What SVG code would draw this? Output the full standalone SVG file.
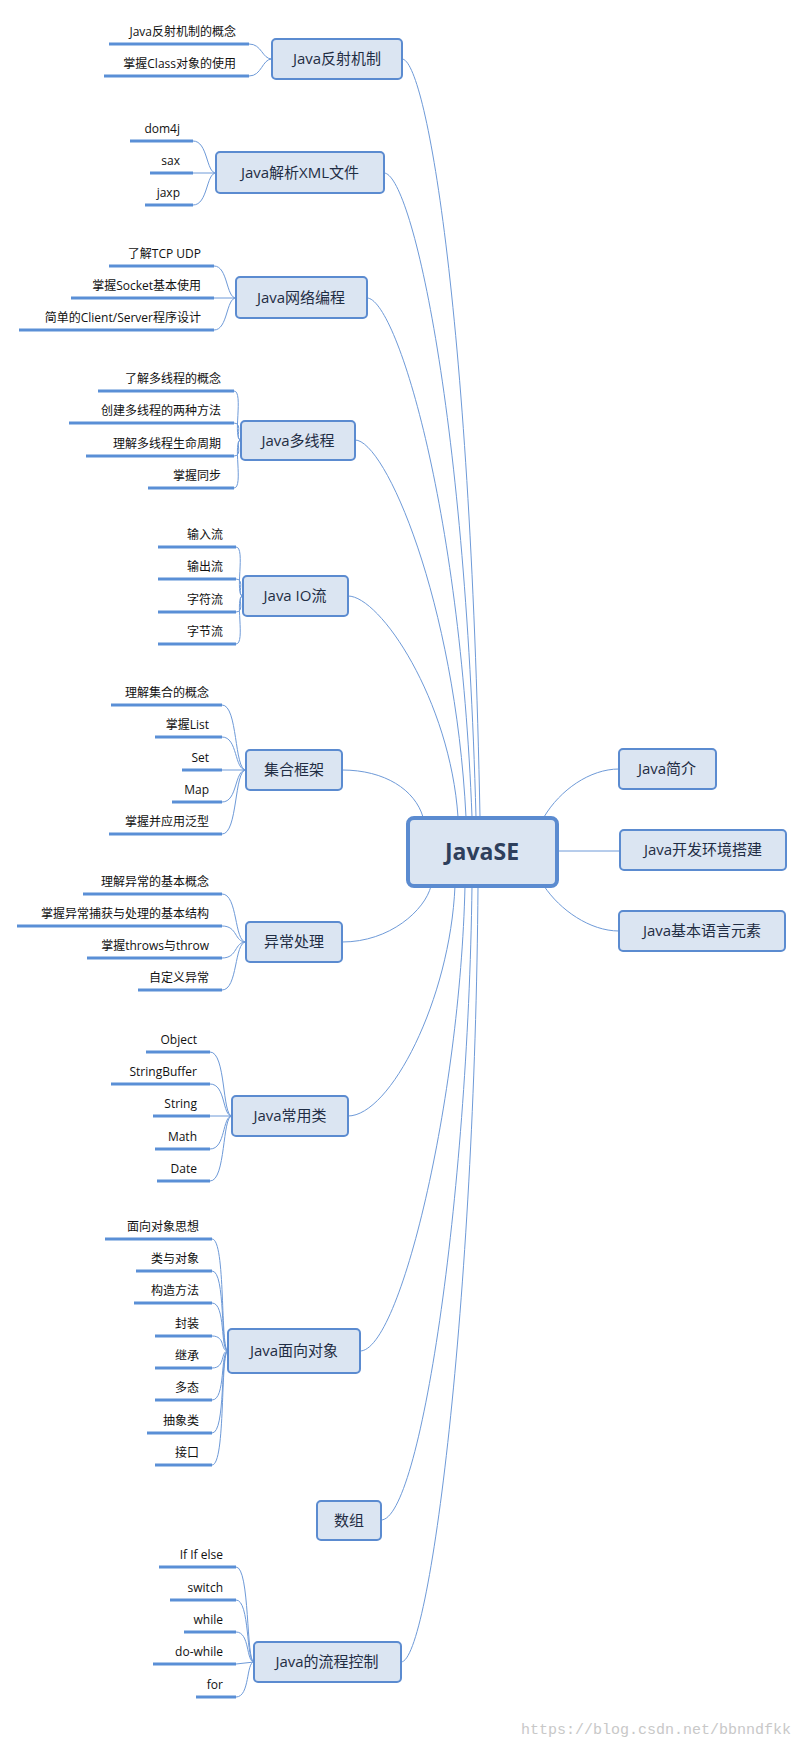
<svg xmlns="http://www.w3.org/2000/svg" width="802" height="1744" viewBox="0 0 802 1744">
<style>
.n{fill:#dbe5f2;stroke:#5b8bd0;stroke-width:2}
.nt{font-family:"Open Sans","Liberation Sans","Noto Sans CJK SC",sans-serif;font-size:15px;fill:#1f2d44;text-anchor:middle}
.lt{font-family:"Open Sans","Liberation Sans","Noto Sans CJK SC",sans-serif;font-size:12px;fill:#111;text-anchor:end}
.bar{stroke:#5a8fd6;stroke-width:3}
.c{fill:none;stroke:#6e9ad8;stroke-width:1}
</style>
<rect width="802" height="1744" fill="#fff"/>
<g id="connectors">
<path class="c" d="M402,59 C425,59 470,300 480,817"/>
<path class="c" d="M384,173 C410,173 465,400 476,817"/>
<path class="c" d="M367,298 C395,298 460,500 472,817"/>
<path class="c" d="M355,440 C385,440 455,600 466,817"/>
<path class="c" d="M348,596 C380,596 450,700 458,817"/>
<path class="c" d="M342,770 C385,770 415,790 423,817"/>
<path class="c" d="M342,942 C390,942 425,910 431,886"/>
<path class="c" d="M348,1116 C390,1116 450,1000 455,886"/>
<path class="c" d="M360,1351 C400,1351 460,1100 465,886"/>
<path class="c" d="M381,1520 C420,1520 468,1200 472,886"/>
<path class="c" d="M401,1662 C430,1662 475,1300 478,886"/>
<path class="c" d="M544,817 C560,790 590,769 619,769"/>
<path class="c" d="M557,851 L620,851"/>
<path class="c" d="M544,886 C560,910 590,931 619,931"/>
<!-- leaf links -->
<path class="c" d="M249,44 C262,44 262,59 272,59 M249,76 C262,76 262,59 272,59"/>
<path class="c" d="M193,141 C208,141 206,173 216,173 M193,173 L216,173 M193,205 C208,205 206,173 216,173"/>
<path class="c" d="M214,266 C228,266 226,298 236,298 M214,298 L236,298 M214,330 C228,330 226,298 236,298"/>
<path class="c" d="M234,391 C244,391 232,440 241,440 M234,423 C244,423 234,440 241,440 M234,456 C244,456 234,440 241,440 M234,488 C244,488 232,440 241,440"/>
<path class="c" d="M236,547 C246,547 234,596 243,596 M236,579 C246,579 236,596 243,596 M236,612 C246,612 236,596 243,596 M236,644 C246,644 234,596 243,596"/>
<path class="c" d="M222,705 C238,705 234,770 246,770 M222,737 C238,737 234,770 246,770 M222,770 L246,770 M222,802 C238,802 234,770 246,770 M222,834 C238,834 234,770 246,770"/>
<path class="c" d="M222,894 C238,894 234,942 246,942 M222,926 C238,926 234,942 246,942 M222,958 C238,958 234,942 246,942 M222,990 C238,990 234,942 246,942"/>
<path class="c" d="M210,1052 C226,1052 222,1116 232,1116 M210,1084 C226,1084 222,1116 232,1116 M210,1116 L232,1116 M210,1149 C226,1149 222,1116 232,1116 M210,1181 C226,1181 222,1116 232,1116"/>
<path class="c" d="M212,1239 C226,1239 220,1351 228,1351 M212,1271 C226,1271 220,1351 228,1351 M212,1303 C226,1303 220,1351 228,1351 M212,1336 C226,1336 220,1351 228,1351 M212,1368 C226,1368 220,1351 228,1351 M212,1400 C226,1400 220,1351 228,1351 M212,1433 C226,1433 220,1351 228,1351 M212,1465 C226,1465 220,1351 228,1351"/>
<path class="c" d="M236,1567 C250,1567 246,1662 254,1662 M236,1600 C250,1600 246,1662 254,1662 M236,1632 C250,1632 246,1662 254,1662 M236,1664 L254,1662 M236,1697 C250,1697 246,1662 254,1662"/>
</g>
<g id="root"><rect x="408" y="818" width="149" height="68" rx="6" fill="#dbe5f2" stroke="#5b8bd0" stroke-width="4"/><text x="482" y="860" font-family="'Open Sans','Liberation Sans',sans-serif" font-size="23" font-weight="bold" fill="#2e3f5c" text-anchor="middle">JavaSE</text></g>
<g id="n-intro"><rect class="n" x="619" y="749" width="97" height="40" rx="4"/><text class="nt" x="667" y="774">Java简介</text></g>
<g id="n-env"><rect class="n" x="620" y="830" width="166" height="40" rx="4"/><text class="nt" x="703" y="855">Java开发环境搭建</text></g>
<g id="n-lang"><rect class="n" x="619" y="911" width="166" height="40" rx="4"/><text class="nt" x="702" y="936">Java基本语言元素</text></g>
<g id="n-reflect"><rect class="n" x="272" y="39" width="130" height="40" rx="4"/><text class="nt" x="337" y="64">Java反射机制</text>
<line class="bar" x1="109" y1="44" x2="249" y2="44"/><text class="lt" x="236" y="36">Java反射机制的概念</text>
<line class="bar" x1="104" y1="76" x2="249" y2="76"/><text class="lt" x="236" y="68">掌握Class对象的使用</text></g>
<g id="n-xml"><rect class="n" x="216" y="152" width="168" height="41" rx="4"/><text class="nt" x="300" y="178">Java解析XML文件</text>
<line class="bar" x1="130" y1="141" x2="193" y2="141"/><text class="lt" x="180" y="133">dom4j</text>
<line class="bar" x1="150" y1="173" x2="193" y2="173"/><text class="lt" x="180" y="165">sax</text>
<line class="bar" x1="145" y1="205" x2="193" y2="205"/><text class="lt" x="180" y="197">jaxp</text></g>
<g id="n-net"><rect class="n" x="236" y="277" width="131" height="41" rx="4"/><text class="nt" x="301" y="303">Java网络编程</text>
<line class="bar" x1="109" y1="266" x2="214" y2="266"/><text class="lt" x="201" y="258">了解TCP UDP</text>
<line class="bar" x1="71" y1="298" x2="214" y2="298"/><text class="lt" x="201" y="290">掌握Socket基本使用</text>
<line class="bar" x1="19" y1="330" x2="214" y2="330"/><text class="lt" x="201" y="322">简单的Client/Server程序设计</text></g>
<g id="n-thread"><rect class="n" x="241" y="421" width="114" height="39" rx="4"/><text class="nt" x="298" y="446">Java多线程</text>
<line class="bar" x1="98" y1="391" x2="234" y2="391"/><text class="lt" x="221" y="383">了解多线程的概念</text>
<line class="bar" x1="69" y1="423" x2="234" y2="423"/><text class="lt" x="221" y="415">创建多线程的两种方法</text>
<line class="bar" x1="86" y1="456" x2="234" y2="456"/><text class="lt" x="221" y="448">理解多线程生命周期</text>
<line class="bar" x1="148" y1="488" x2="234" y2="488"/><text class="lt" x="221" y="480">掌握同步</text></g>
<g id="n-io"><rect class="n" x="243" y="576" width="105" height="40" rx="4"/><text class="nt" x="295" y="601">Java IO流</text>
<line class="bar" x1="158" y1="547" x2="236" y2="547"/><text class="lt" x="223" y="539">输入流</text>
<line class="bar" x1="158" y1="579" x2="236" y2="579"/><text class="lt" x="223" y="571">输出流</text>
<line class="bar" x1="158" y1="612" x2="236" y2="612"/><text class="lt" x="223" y="604">字符流</text>
<line class="bar" x1="158" y1="644" x2="236" y2="644"/><text class="lt" x="223" y="636">字节流</text></g>
<g id="n-coll"><rect class="n" x="246" y="750" width="96" height="40" rx="4"/><text class="nt" x="294" y="775">集合框架</text>
<line class="bar" x1="111" y1="705" x2="222" y2="705"/><text class="lt" x="209" y="697">理解集合的概念</text>
<line class="bar" x1="155" y1="737" x2="222" y2="737"/><text class="lt" x="209" y="729">掌握List</text>
<line class="bar" x1="182" y1="770" x2="222" y2="770"/><text class="lt" x="209" y="762">Set</text>
<line class="bar" x1="172" y1="802" x2="222" y2="802"/><text class="lt" x="209" y="794">Map</text>
<line class="bar" x1="109" y1="834" x2="222" y2="834"/><text class="lt" x="209" y="826">掌握并应用泛型</text></g>
<g id="n-exc"><rect class="n" x="246" y="922" width="96" height="40" rx="4"/><text class="nt" x="294" y="947">异常处理</text>
<line class="bar" x1="83" y1="894" x2="222" y2="894"/><text class="lt" x="209" y="886">理解异常的基本概念</text>
<line class="bar" x1="17" y1="926" x2="222" y2="926"/><text class="lt" x="209" y="918">掌握异常捕获与处理的基本结构</text>
<line class="bar" x1="87" y1="958" x2="222" y2="958"/><text class="lt" x="209" y="950">掌握throws与throw</text>
<line class="bar" x1="138" y1="990" x2="222" y2="990"/><text class="lt" x="209" y="982">自定义异常</text></g>
<g id="n-util"><rect class="n" x="232" y="1096" width="116" height="40" rx="4"/><text class="nt" x="290" y="1121">Java常用类</text>
<line class="bar" x1="146" y1="1052" x2="210" y2="1052"/><text class="lt" x="197" y="1044">Object</text>
<line class="bar" x1="111" y1="1084" x2="210" y2="1084"/><text class="lt" x="197" y="1076">StringBuffer</text>
<line class="bar" x1="153" y1="1116" x2="210" y2="1116"/><text class="lt" x="197" y="1108">String</text>
<line class="bar" x1="155" y1="1149" x2="210" y2="1149"/><text class="lt" x="197" y="1141">Math</text>
<line class="bar" x1="157" y1="1181" x2="210" y2="1181"/><text class="lt" x="197" y="1173">Date</text></g>
<g id="n-oop"><rect class="n" x="228" y="1329" width="132" height="44" rx="4"/><text class="nt" x="294" y="1356">Java面向对象</text>
<line class="bar" x1="105" y1="1239" x2="212" y2="1239"/><text class="lt" x="199" y="1231">面向对象思想</text>
<line class="bar" x1="136" y1="1271" x2="212" y2="1271"/><text class="lt" x="199" y="1263">类与对象</text>
<line class="bar" x1="134" y1="1303" x2="212" y2="1303"/><text class="lt" x="199" y="1295">构造方法</text>
<line class="bar" x1="155" y1="1336" x2="212" y2="1336"/><text class="lt" x="199" y="1328">封装</text>
<line class="bar" x1="155" y1="1368" x2="212" y2="1368"/><text class="lt" x="199" y="1360">继承</text>
<line class="bar" x1="155" y1="1400" x2="212" y2="1400"/><text class="lt" x="199" y="1392">多态</text>
<line class="bar" x1="147" y1="1433" x2="212" y2="1433"/><text class="lt" x="199" y="1425">抽象类</text>
<line class="bar" x1="155" y1="1465" x2="212" y2="1465"/><text class="lt" x="199" y="1457">接口</text></g>
<g id="n-array"><rect class="n" x="317" y="1501" width="64" height="39" rx="4"/><text class="nt" x="349" y="1526">数组</text></g>
<g id="n-flow"><rect class="n" x="254" y="1642" width="147" height="40" rx="4"/><text class="nt" x="327" y="1667">Java的流程控制</text>
<line class="bar" x1="159" y1="1567" x2="236" y2="1567"/><text class="lt" x="223" y="1559">If If else</text>
<line class="bar" x1="170" y1="1600" x2="236" y2="1600"/><text class="lt" x="223" y="1592">switch</text>
<line class="bar" x1="184" y1="1632" x2="236" y2="1632"/><text class="lt" x="223" y="1624">while</text>
<line class="bar" x1="153" y1="1664" x2="236" y2="1664"/><text class="lt" x="223" y="1656">do-while</text>
<line class="bar" x1="196" y1="1697" x2="236" y2="1697"/><text class="lt" x="223" y="1689">for</text></g>
<text x="791" y="1734" font-family="'Liberation Mono','DejaVu Sans Mono',monospace" font-size="15" fill="#c8c8c8" text-anchor="end">https://blog.csdn.net/bbnndfkk</text>
</svg>
